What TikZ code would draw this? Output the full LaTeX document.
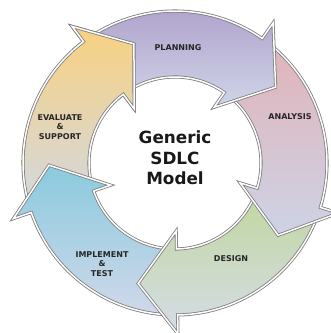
\documentclass[tikz,border=0pt]{standalone}
\usepackage{fontspec}
\setmainfont{DejaVu Sans}
\definecolor{edgegray}{HTML}{7C7C7C}
\definecolor{planT}{HTML}{AFA0CB}\definecolor{planB}{HTML}{CFD5E8}
\definecolor{anaT}{HTML}{E2B3B8}\definecolor{anaB}{HTML}{CDD3E6}
\definecolor{desT}{HTML}{C0D79D}\definecolor{desB}{HTML}{D6DCE8}
\definecolor{impT}{HTML}{8ACADE}\definecolor{impB}{HTML}{D0D8EA}
\definecolor{evaT}{HTML}{F8D180}\definecolor{evaB}{HTML}{D3D8E2}
\tikzset{
  arrowbody/.style={draw=edgegray, line width=0.8pt, double=white, double distance=1.5pt, line join=miter},
  lbl/.style={font=\bfseries\fontsize{8}{9.8}\selectfont, text=black!85, align=center, inner sep=0pt},
  centertext/.style={font=\bfseries\fontsize{16.8}{20.5}\selectfont, text=black!90, align=center, inner sep=0pt}
}
\newcommand{\sdlcarrow}[3]{%
  \pgfmathsetmacro{\sdTail}{#1+88.5}%
  \pgfmathsetmacro{\sdBase}{#1+18}%
  \draw[arrowbody, top color=#2, bottom color=#3]
    (\sdTail:152pt) arc[start angle=\sdTail, end angle=\sdBase, radius=152pt]
    -- (\sdBase:171pt) -- (#1:126pt) -- (\sdBase:68pt) -- (\sdBase:86pt)
    arc[start angle=\sdBase, end angle=\sdTail, radius=86pt] -- cycle;}
\begin{document}
\begin{tikzpicture}[x=1pt, y=1pt]
  \useasboundingbox[fill=white] (-175,-170) rectangle (156,163);
  % drawn in reverse order so each head lies over the next tail
  \sdlcarrow{109}{evaT}{evaB}
  \sdlcarrow{-179}{impT}{impB}
  \sdlcarrow{-107}{desT}{desB}
  \sdlcarrow{-35}{anaT}{anaB}
  \sdlcarrow{37}{planT}{planB}
  % evaluate head again, on top of the planning tail
  \begin{scope}
    \clip (0,0) -- (132:210pt) -- (117:240pt) -- (102:210pt) -- cycle;
    \sdlcarrow{109}{evaT}{evaB}
  \end{scope}
  \node[lbl] (plan) at (3,115) {PLANNING};
  \node[lbl] (ana) at (115,46) {ANALYSIS};
  \node[lbl] (des) at (56,-96) {DESIGN};
  \node[lbl] (imp) at (-73,-101) {IMPLEMENT\\\&\\TEST};
  \node[lbl] (eva) at (-115,36) {EVALUATE\\\&\\SUPPORT};
  \node[centertext] (title) at (0,5) {Generic\\SDLC\\Model};
\end{tikzpicture}
\end{document}
